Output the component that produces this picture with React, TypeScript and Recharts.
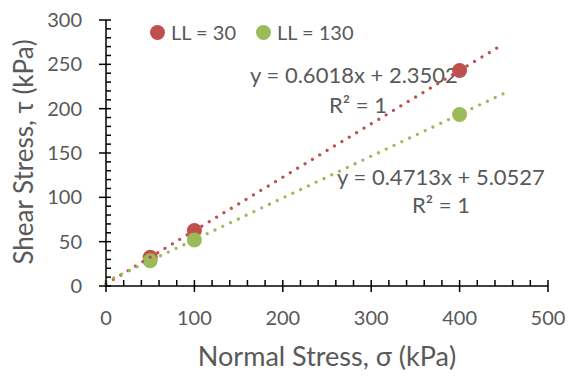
import { ScatterChart, Scatter, XAxis, YAxis, Legend, Label, Customized } from 'recharts';

// normal stress (kPa) and shear stress (kPa)
const stressLL30 = [50, 100, 400];
const shearLL30 = [32.5, 62.5, 243];
const stressLL130 = [50, 100, 400];
const shearLL130 = [28.5, 52, 193.5];

// trendline endpoints (from the equations shown)
const trendX = [0, 450];
const trendLL30 = [2.35, 273.16];
const trendLL130 = [5.05, 217.14];

const seriesNames = ['LL = 30', 'LL = 130'];

const xTicks = [0, 20, 40, 60, 80, 100, 120, 140, 160, 180, 200, 220, 240, 260, 280, 300, 320, 340, 360, 380, 400, 420, 440, 460, 480, 500];
const yTicks = [0, 10, 20, 30, 40, 50, 60, 70, 80, 90, 100, 110, 120, 130, 140, 150, 160, 170, 180, 190, 200, 210, 220, 230, 240, 250, 260, 270, 280, 290, 300];

const RED = '#C0504D';
const GREEN = '#9BBB59';
const GREY = '#595959';
const FONT = 'Lato, sans-serif';

const toPoints = (xs: number[], ys: number[]) => xs.map((x, i) => ({ x, y: ys[i] }));

const dataLL30 = toPoints(stressLL30, shearLL30);
const dataLL130 = toPoints(stressLL130, shearLL130);
const trend30 = toPoints(trendX, trendLL30);
const trend130 = toPoints(trendX, trendLL130);

const XTick = (props: any) => {
  const { x, y, payload } = props;
  const v = payload.value;
  const major = v % 100 === 0;
  return (
    <g>
      <line x1={x} x2={x} y1={y - 6} y2={major ? y + 6 : y} stroke="#000" strokeWidth={1.5} />
      {major && (
        <text x={x} y={y + 39} textAnchor="middle" fill={GREY} fontSize={20} fontFamily={FONT}>
          {v}
        </text>
      )}
    </g>
  );
};

const YTick = (props: any) => {
  const { x, y, payload } = props;
  const v = payload.value;
  const major = v % 50 === 0;
  return (
    <g>
      <line x1={major ? x - 7 : x} x2={x + 5} y1={y} y2={y} stroke="#000" strokeWidth={1.5} />
      {major && (
        <text x={x - 24} y={y + 7} textAnchor="end" fill={GREY} fontSize={20} fontFamily={FONT}>
          {v}
        </text>
      )}
    </g>
  );
};

const dot = (color: string) => (p: any) => <circle cx={p.cx} cy={p.cy} r={7.5} fill={color} />;
const noDot = () => <g />;

const LegendContent = (props: any) => {
  // only the two data series, in their own order (trendlines are not listed)
  const items = (props.payload || [])
    .filter((e: any) => seriesNames.includes(e.value))
    .sort((a: any, b: any) => seriesNames.indexOf(a.value) - seriesNames.indexOf(b.value));
  return (
    <div
      style={{
        display: 'flex',
        justifyContent: 'flex-start',
        alignItems: 'center',
        paddingLeft: 150,
        fontFamily: FONT,
        fontSize: 20,
        color: GREY,
      }}
    >
      {items.map((e: any) => (
        <div key={e.value} style={{ display: 'flex', alignItems: 'center', marginRight: 20 }}>
          <span style={{ width: 15, height: 15, borderRadius: '50%', background: e.color, marginRight: 6 }} />
          <span>{e.value}</span>
        </div>
      ))}
    </div>
  );
};

const Equations = () => (
  <g fill={GREY} fontFamily={FONT} fontSize={22} textAnchor="middle">
    <text x={354} y={83}>y = 0.6018x + 2.3502</text>
    <text x={358} y={113}>R² = 1</text>
    <text x={441} y={185}>y = 0.4713x + 5.0527</text>
    <text x={441} y={213}>R² = 1</text>
  </g>
);

export default function App() {
  return (
    <div style={{ position: 'absolute', left: 0, top: 0, background: '#fff' }}>
      <ScatterChart width={570} height={379} margin={{ top: 20, right: 22, bottom: 0, left: 0 }}>
        <XAxis
          type="number"
          dataKey="x"
          domain={[0, 500]}
          ticks={xTicks}
          interval={0}
          tickLine={false}
          tickSize={0}
          tickMargin={0}
          axisLine={{ stroke: '#000', strokeWidth: 1.5 }}
          tick={<XTick />}
          height={93}
        >
          <Label
            content={() => (
              <text x={327} y={366} textAnchor="middle" fill={GREY} fontSize={27} fontFamily={FONT}>
                Normal Stress, σ (kPa)
              </text>
            )}
          />
        </XAxis>
        <YAxis
          type="number"
          dataKey="y"
          domain={[0, 300]}
          ticks={yTicks}
          interval={0}
          tickLine={false}
          tickSize={0}
          tickMargin={0}
          axisLine={{ stroke: '#000', strokeWidth: 1.5 }}
          tick={<YTick />}
          width={106}
        >
          <Label
            content={() => (
              <text
                x={33}
                y={152}
                textAnchor="middle"
                transform="rotate(-90 33 152)"
                fill={GREY}
                fontSize={26}
                fontFamily={FONT}
              >
                Shear Stress, τ (kPa)
              </text>
            )}
          />
        </YAxis>
        <Legend
          layout="horizontal"
          verticalAlign="middle"
          align="center"
          wrapperStyle={{ left: 0, top: 20, width: 570 }}
          content={<LegendContent />}
        />
        <Scatter name="LL = 30" data={dataLL30} fill={RED} shape={dot(RED)} isAnimationActive={false} />
        <Scatter name="LL = 130" data={dataLL130} fill={GREEN} shape={dot(GREEN)} isAnimationActive={false} />
        <Scatter
          data={trend30}
          legendType="none"
          shape={noDot}
          line={{ stroke: RED, strokeWidth: 3.2, strokeDasharray: '0.01 8.6', strokeLinecap: 'round' }}
          isAnimationActive={false}
        />
        <Scatter
          data={trend130}
          legendType="none"
          shape={noDot}
          line={{ stroke: GREEN, strokeWidth: 3.2, strokeDasharray: '0.01 8.6', strokeLinecap: 'round' }}
          isAnimationActive={false}
        />
        <Customized component={Equations} />
      </ScatterChart>
    </div>
  );
}
